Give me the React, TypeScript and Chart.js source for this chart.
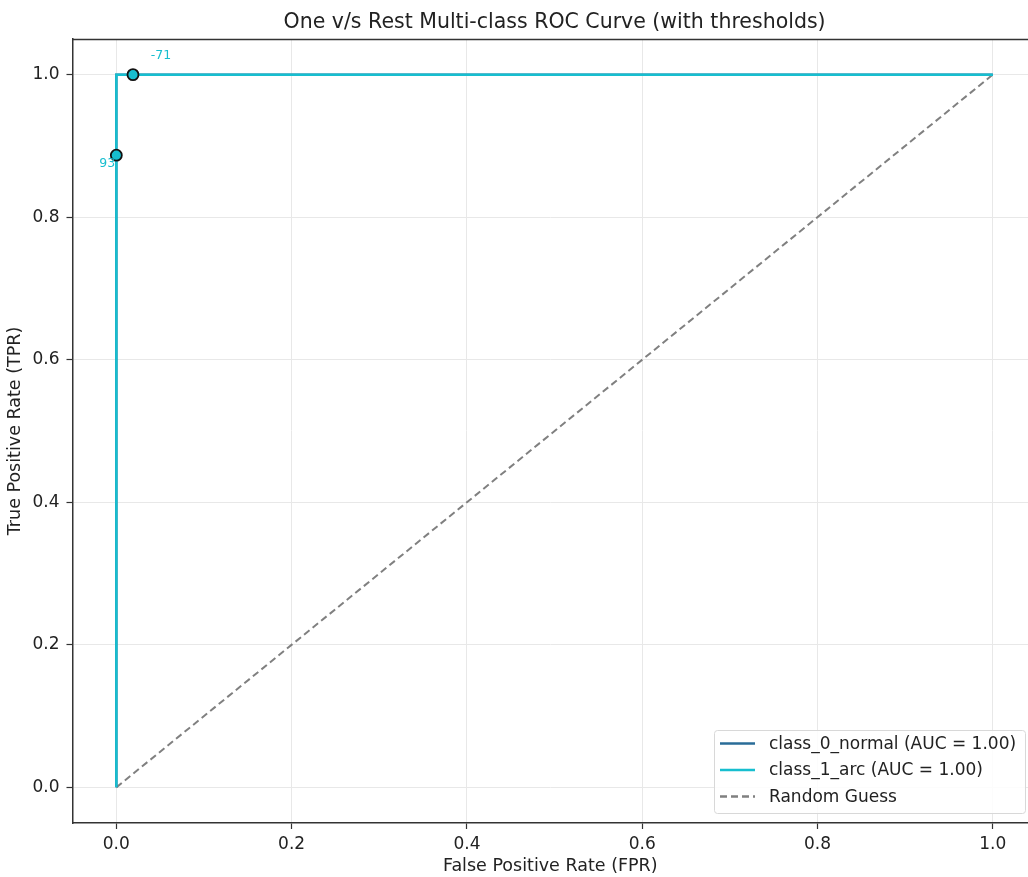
import React, { useEffect, useRef } from "react";
import { Chart, registerables } from "chart.js";

Chart.register(...registerables);

// ---- Data ----
const class0Fpr = [0, 0, 0, 0.019, 1];
const class0Tpr = [0, 0.887, 1, 1, 1];
const class1Fpr = [0, 0, 0, 0.019, 1];
const class1Tpr = [0, 0.887, 1, 1, 1];
const randomFpr = [0, 1];
const randomTpr = [0, 1];
const thresholdFpr = [0, 0.019];
const thresholdTpr = [0.887, 1];
const thresholdLabels = ["93", "-71"];
const seriesLabels = ["class_0_normal (AUC = 1.00)", "class_1_arc (AUC = 1.00)", "Random Guess"];
const xTicks = [0, 0.2, 0.4, 0.6, 0.8, 1.0];
const yTicks = [0, 0.2, 0.4, 0.6, 0.8, 1.0];

const TITLE = "One v/s Rest Multi-class ROC Curve (with thresholds)";
const X_TITLE = "False Positive Rate (FPR)";
const Y_TITLE = "True Positive Rate (TPR)";

const FONT = "'DejaVu Sans', sans-serif";
const C0 = "#2a6c98";
const C1 = "#17becf";
const GRAY = "#808080";
const SPINE = "#333333";
const TEXT = "#222222";
const labelOffsets = [
  [-9, 9],
  [28, -19],
];

const toXY = (xs: number[], ys: number[]) => xs.map((x, i) => ({ x, y: ys[i] }));

const decorPlugin = {
  id: "decor",
  afterDraw(chart: any) {
    const { ctx, chartArea } = chart;
    const xs = chart.scales.x;
    const ys = chart.scales.y;
    ctx.save();
    // top spine
    ctx.strokeStyle = SPINE;
    ctx.lineWidth = 1.5;
    ctx.beginPath();
    ctx.moveTo(chartArea.left, chartArea.top + 0.5);
    ctx.lineTo(chartArea.right, chartArea.top + 0.5);
    ctx.stroke();

    // title
    ctx.fillStyle = TEXT;
    ctx.font = `20.5px ${FONT}`;
    ctx.textAlign = "center";
    ctx.textBaseline = "alphabetic";
    ctx.fillText(TITLE, (chartArea.left + xs.getPixelForValue(1.05)) / 2, 28);

    // threshold labels
    ctx.textBaseline = "middle";
    ctx.font = `12.5px ${FONT}`;
    ctx.fillStyle = C1;
    thresholdLabels.forEach((t, i) => {
      const px = xs.getPixelForValue(thresholdFpr[i]) + labelOffsets[i][0];
      const py = ys.getPixelForValue(thresholdTpr[i]) + labelOffsets[i][1];
      ctx.fillText(t, px, py);
    });

    // legend
    const right = chartArea.right - 3;
    const bottom = chartArea.bottom - 10;
    const w = 311;
    const h = 83;
    const left = right - w;
    const top = bottom - h;
    ctx.fillStyle = "rgba(255,255,255,0.85)";
    ctx.strokeStyle = "#d8d8d8";
    ctx.lineWidth = 1;
    ctx.beginPath();
    (ctx as any).roundRect(left + 0.5, top + 0.5, w, h, 3);
    ctx.fill();
    ctx.stroke();
    const colors = [C0, C1, GRAY];
    const rowsY = [743.5, 770, 796.5].map((v) => v - 813 + bottom);
    ctx.font = `17px ${FONT}`;
    ctx.textAlign = "left";
    seriesLabels.forEach((lab, i) => {
      ctx.strokeStyle = colors[i];
      ctx.lineWidth = 2.5;
      ctx.setLineDash(i === 2 ? [7, 4] : []);
      ctx.beginPath();
      ctx.moveTo(left + 6, rowsY[i]);
      ctx.lineTo(left + 41, rowsY[i]);
      ctx.stroke();
      ctx.setLineDash([]);
      ctx.fillStyle = TEXT;
      ctx.fillText(lab, left + 55, rowsY[i] + 1);
    });
    ctx.restore();
  },
};

export default function App() {
  const ref = useRef<HTMLCanvasElement | null>(null);
  useEffect(() => {
    if (!ref.current) return;
    const chart = new Chart(ref.current, {
      type: "scatter",
      data: {
        datasets: [
          {
            label: "thresholds",
            data: toXY(thresholdFpr, thresholdTpr),
            showLine: false,
            pointRadius: 5.5,
            pointBackgroundColor: C1,
            pointBorderColor: "#111",
            pointBorderWidth: 1.8,
            order: 0,
          } as any,
          {
            label: seriesLabels[1],
            data: toXY(class1Fpr, class1Tpr),
            showLine: true,
            borderColor: C1,
            borderWidth: 2.5,
            pointRadius: 0,
            tension: 0,
            order: 1,
          },
          {
            label: seriesLabels[0],
            data: toXY(class0Fpr, class0Tpr),
            showLine: true,
            borderColor: C0,
            borderWidth: 2.5,
            pointRadius: 0,
            tension: 0,
            order: 2,
          },
          {
            label: seriesLabels[2],
            data: toXY(randomFpr, randomTpr),
            showLine: true,
            borderColor: GRAY,
            borderWidth: 2,
            borderDash: [7, 4],
            pointRadius: 0,
            order: 3,
          },
        ],
      },
      options: {
        responsive: false,
        animation: false,
        events: [],
        layout: { autoPadding: false, padding: { top: 39, left: 0, right: 0, bottom: 0 } },
        plugins: { legend: { display: false }, tooltip: { enabled: false }, title: { display: false } },
        scales: {
          x: {
            type: "linear",
            min: -0.05,
            max: -0.05 + (1028 - 72.5) / 876.5,
            afterBuildTicks: (s: any) => {
              s.ticks = xTicks.map((v) => ({ value: v }));
            },
            afterFit: (s: any) => {
              s.height = 877 - 823;
              s.paddingLeft = 0;
              s.paddingRight = 0;
            },
            border: { display: true, color: SPINE, width: 1.5 },
            grid: { color: "#e8e8e8", lineWidth: 1, tickLength: 6, tickColor: SPINE, tickWidth: 1.2 },
            ticks: {
              autoSkip: false,
              maxRotation: 0,
              padding: 5,
              color: TEXT,
              font: { family: FONT, size: 17 },
              callback: (v: any) => Number(v).toFixed(1),
            },
            title: {
              display: true,
              text: X_TITLE,
              color: TEXT,
              font: { family: FONT, size: 17.5 },
              padding: { top: 0, bottom: 0 },
            },
          },
          y: {
            type: "linear",
            min: -0.05,
            max: 1.05,
            afterBuildTicks: (s: any) => {
              s.ticks = yTicks.map((v) => ({ value: v }));
            },
            afterFit: (s: any) => {
              s.width = 72.5;
              s.paddingTop = 0;
              s.paddingBottom = 0;
            },
            border: { display: true, color: SPINE, width: 1.5 },
            grid: { color: "#e8e8e8", lineWidth: 1, tickLength: 6, tickColor: SPINE, tickWidth: 1.2 },
            ticks: {
              autoSkip: false,
              padding: 7,
              color: TEXT,
              font: { family: FONT, size: 17 },
              callback: (v: any) => Number(v).toFixed(1),
            },
            title: {
              display: true,
              text: Y_TITLE,
              color: TEXT,
              font: { family: FONT, size: 17.5 },
              padding: { top: 5, bottom: 0 },
            },
          },
        },
      },
      plugins: [decorPlugin],
    });
    return () => chart.destroy();
  }, []);
  return (
    <div style={{ position: "fixed", left: 0, top: 0, width: 1028, height: 877, background: "#fff", overflow: "hidden" }}>
      <canvas ref={ref} width={1028} height={877} style={{ width: 1028, height: 877, display: "block" }} />
    </div>
  );
}
